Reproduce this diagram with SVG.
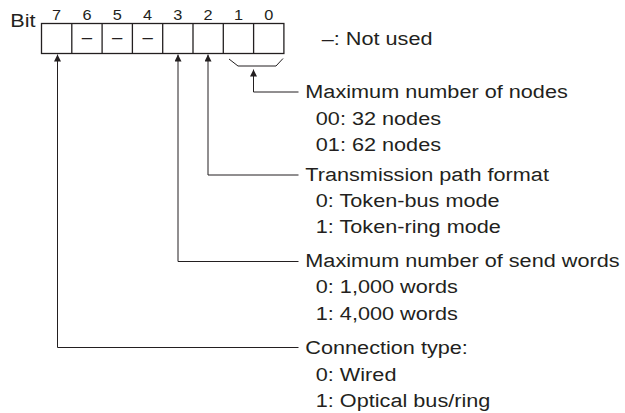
<svg xmlns="http://www.w3.org/2000/svg" width="625" height="413" viewBox="0 0 625 413">
<style>
text{font-family:"Liberation Sans",Arial,Helvetica,sans-serif;fill:#231f20}
.t{font-size:18.6px}
.n{font-size:14px;text-anchor:middle}
.d{font-size:18.6px;text-anchor:middle}
.box{fill:none;stroke:#231f20;stroke-width:1.3}
.div{stroke:#231f20;stroke-width:1.3}
.conn{fill:none;stroke:#231f20;stroke-width:1}
</style>
<defs>
<marker id="arr" markerUnits="userSpaceOnUse" viewBox="0 0 7 7" markerWidth="7" markerHeight="7" refX="7" refY="3.5" orient="auto">
<path d="M0,0 L7,3.5 L0,7 z" fill="#231f20"/>
</marker>
</defs>
<rect width="625" height="413" fill="#fff"/>

<g id="register">
<g transform="translate(10.3 0) scale(1.165 1)"><text class="t" x="0" y="27.3">Bit</text></g>
<rect class="box" x="41.5" y="23.5" width="242.4" height="30"/>
<line class="div" x1="71.8" y1="23.5" x2="71.8" y2="53.5"/>
<line class="div" x1="102.1" y1="23.5" x2="102.1" y2="53.5"/>
<line class="div" x1="132.4" y1="23.5" x2="132.4" y2="53.5"/>
<line class="div" x1="162.7" y1="23.5" x2="162.7" y2="53.5"/>
<line class="div" x1="193" y1="23.5" x2="193" y2="53.5"/>
<line class="div" x1="223.3" y1="23.5" x2="223.3" y2="53.5"/>
<line class="div" x1="253.6" y1="23.5" x2="253.6" y2="53.5"/>
<g transform="translate(56.65 0) scale(1.165 1)"><text class="n" x="0" y="20">7</text></g>
<g transform="translate(86.95 0) scale(1.165 1)"><text class="n" x="0" y="20">6</text></g>
<g transform="translate(117.25 0) scale(1.165 1)"><text class="n" x="0" y="20">5</text></g>
<g transform="translate(147.55 0) scale(1.165 1)"><text class="n" x="0" y="20">4</text></g>
<g transform="translate(177.85 0) scale(1.165 1)"><text class="n" x="0" y="20">3</text></g>
<g transform="translate(208.15 0) scale(1.165 1)"><text class="n" x="0" y="20">2</text></g>
<g transform="translate(238.45 0) scale(1.165 1)"><text class="n" x="0" y="20">1</text></g>
<g transform="translate(268.75 0) scale(1.165 1)"><text class="n" x="0" y="20">0</text></g>
<g transform="translate(86.95 0) scale(1.0 1)"><text class="d" x="0" y="42.5">–</text></g>
<g transform="translate(117.25 0) scale(1.0 1)"><text class="d" x="0" y="42.5">–</text></g>
<g transform="translate(147.55 0) scale(1.0 1)"><text class="d" x="0" y="42.5">–</text></g>
</g>

<g id="legend" transform="translate(321.7 0) scale(1.165 1)">
<text class="t" x="0" y="45">–: Not used</text>
</g>

<g id="connectors">
<path class="conn" d="M229,59 L238,66 H276 L283,58.5"/>
<path class="conn" d="M298.5,92 H253.5 V69.5" marker-end="url(#arr)"/>
<path class="conn" d="M298.5,175 H208 V54.5" marker-end="url(#arr)"/>
<path class="conn" d="M298.5,261.5 H178 V54.5" marker-end="url(#arr)"/>
<path class="conn" d="M298.5,347.5 H57.5 V54.5" marker-end="url(#arr)"/>
</g>

<g id="node-nodes" transform="translate(305.3 0) scale(1.165 1)">
<text class="t" x="0" y="98.5">Maximum number of nodes</text>
<text class="t" x="9" y="124.8">00: 32 nodes</text>
<text class="t" x="9" y="150.7">01: 62 nodes</text>
</g>

<g id="node-path" transform="translate(305.3 0) scale(1.165 1)">
<text class="t" x="0" y="181">Transmission path format</text>
<text class="t" x="9" y="207.3">0: Token-bus mode</text>
<text class="t" x="9" y="233.3">1: Token-ring mode</text>
</g>

<g id="node-words" transform="translate(305.3 0) scale(1.165 1)">
<text class="t" x="0" y="267">Maximum number of send words</text>
<text class="t" x="9" y="293.3">0: 1,000 words</text>
<text class="t" x="9" y="320">1: 4,000 words</text>
</g>

<g id="node-connection" transform="translate(305.3 0) scale(1.165 1)">
<text class="t" x="0" y="354.5">Connection type:</text>
<text class="t" x="9" y="380.7">0: Wired</text>
<text class="t" x="9" y="406.7">1: Optical bus/ring</text>
</g>
</svg>
